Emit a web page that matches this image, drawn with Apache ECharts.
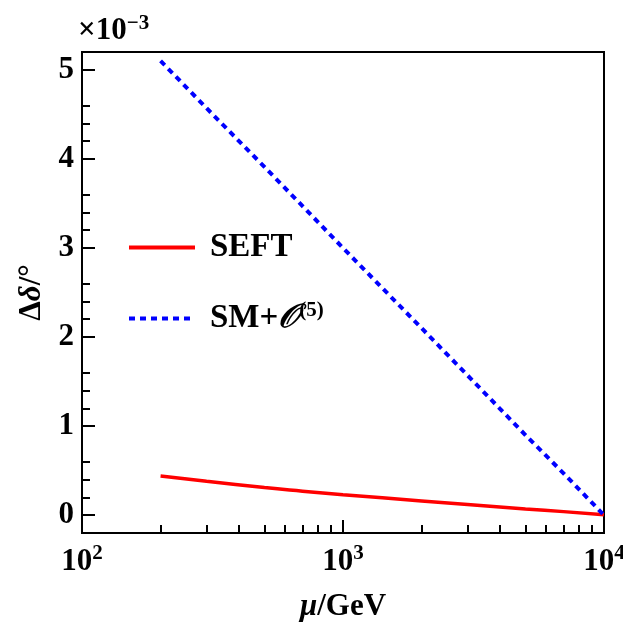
<!DOCTYPE html>
<html>
<head>
<meta charset="utf-8">
<script src="https://cdn.jsdelivr.net/npm/echarts@6/dist/echarts.min.js"></script>
<style>html,body{margin:0;padding:0;background:#fff}#c{width:623px;height:624px}</style>
</head>
<body>
<div id="c"></div>
<script>
// mu in GeV, delta in units of 1e-3 degrees
var mu = [200, 300, 500, 700, 1000, 2000, 3000, 5000, 7000, 10000]
var seft = [0.44, 0.38, 0.31, 0.27, 0.23, 0.16, 0.12, 0.07, 0.04, 0.005]
var smO5 = [5.1, 4.57, 3.91, 3.47, 3.0, 2.1, 1.57, 0.9, 0.47, 0.0]
var xMajor = [100, 1000, 10000]
var xMinor = [200, 300, 400, 500, 600, 700, 800, 900, 2000, 3000, 4000, 5000, 6000, 7000, 8000, 9000]
var yMajor = [0, 1, 2, 3, 4, 5]

var font = '"Liberation Serif", "DejaVu Serif", serif'
var B = function (size) { return { fontFamily: font, fontWeight: 'bold', fontSize: size, color: '#000' } }
var I = function (size) { return { fontFamily: font, fontStyle: 'italic', fontWeight: 'bold', fontSize: size, color: '#000' } }
var S = function (size, pad) { return { fontFamily: font, fontWeight: 'bold', fontSize: size, color: '#000', verticalAlign: 'top', padding: [0, 0, pad, 0] } }

var mychart = echarts.init(document.getElementById('c'))
mychart.setOption({
    animation: false,
    grid: { left: 82, right: 19, top: 52, bottom: 91, outerBoundsMode: 'none', containLabel: false,
        show: true, borderColor: '#000', borderWidth: 2 },
    legend: {
        orient: 'vertical',
        left: 122,
        top: 226,
        itemWidth: 66,
        itemHeight: 14,
        itemGap: 36,
        itemStyle: { opacity: 0 },
        lineStyle: { width: 4 },
        data: ['SEFT', 'SM+O5'],
        textStyle: { fontFamily: font, fontWeight: 'bold', fontSize: 33, color: '#000', padding: [0, 0, 0, 10],
            rich: { b: B(33), i: { fontFamily: font, fontStyle: 'italic', fontSize: 33, color: '#000' }, s: S(21, 16) }
        },
        formatter: function (n) {
            if (n === 'SEFT') return '{b|SEFT}'
            return '{b|SM+}{i|𝒪}{s|(5)}'
        }
    },
    xAxis: [{
        type: 'log',
        logBase: 10,
        min: 100,
        max: 10000,
        axisLine: { onZero: false, lineStyle: { color: '#000', width: 2 } },
        axisTick: { inside: true, length: 13, lineStyle: { color: '#000', width: 2 }, customValues: xMajor },
        axisLabel: {
            customValues: xMajor,
            margin: 10,
            formatter: function (v) {
                return '{b|10}{s|' + Math.round(Math.log10(v)) + '}'
            },
            rich: { b: B(31), s: S(21, 16) }
        },
        splitLine: { show: false },
        name: '{i|μ}{b|/GeV}',
        nameLocation: 'middle',
        nameGap: 58,
        nameTextStyle: { rich: { i: I(31), b: B(31) } }
    }, {
        type: 'log',
        logBase: 10,
        min: 100,
        max: 10000,
        position: 'bottom',
        axisLine: { show: false, onZero: false },
        axisTick: { inside: true, length: 8, lineStyle: { color: '#000', width: 2 }, customValues: xMinor },
        axisLabel: { show: false },
        splitLine: { show: false }
    }],
    yAxis: {
        type: 'value',
        min: -0.2,
        max: 5.2,
        interval: 1,
        axisLine: { show: true, lineStyle: { color: '#000', width: 2 } },
        axisTick: { inside: true, length: 13, lineStyle: { color: '#000', width: 2 }, customValues: yMajor },
        minorTick: { show: true, splitNumber: 5, length: 8, lineStyle: { color: '#000', width: 2 } },
        axisLabel: { customValues: yMajor, fontFamily: font, fontWeight: 'bold', fontSize: 31, color: '#000', margin: 8 },
        splitLine: { show: false },
        minorSplitLine: { show: false },
        name: '{b|Δ}{i|δ}{b|/°}',
        nameLocation: 'middle',
        nameGap: 34,
        nameRotate: 90,
        nameTextStyle: { rich: { i: I(31), b: B(31) } }
    },
    graphic: [{
        type: 'text',
        left: 78,
        top: 13,
        style: {
            text: '{b|×10}{s|−3}',
            rich: { b: B(31), s: S(21, 14) }
        }
    }],
    series: [{
        name: 'SEFT',
        type: 'line',
        symbol: 'none',
        smooth: true,
        data: mu.map(function (m, i) { return [m, seft[i]] }),
        lineStyle: { color: '#ff0000', width: 3.5 },
        itemStyle: { color: '#ff0000' }
    }, {
        name: 'SM+O5',
        type: 'line',
        symbol: 'none',
        data: mu.map(function (m, i) { return [m, smO5[i]] }),
        lineStyle: { color: '#0000ff', width: 4, type: [6, 5] },
        itemStyle: { color: '#0000ff' }
    }]
})
</script>
</body>
</html>
